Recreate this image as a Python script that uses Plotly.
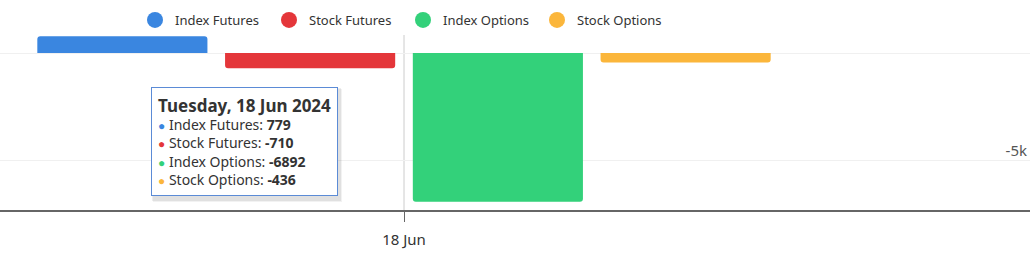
import plotly.graph_objects as go

categories = ["18 Jun"]
series_names = ["Index Futures", "Stock Futures", "Index Options", "Stock Options"]
index_futures = [779]
stock_futures = [-710]
index_options = [-6892]
stock_options = [-436]
colors = ["#3a86e0", "#e4363a", "#33d17a", "#fbb63b"]
tooltip_title = "Tuesday, 18 Jun 2024"
y_tickvals = [-5000, 0]
y_ticktext = ["-5k", ""]

values = [index_futures, stock_futures, index_options, stock_options]
FONT = "Noto Sans"

fig = go.Figure()
for name, vals, col in zip(series_names, values, colors):
    fig.add_trace(go.Bar(x=categories, y=vals, name=name, marker=dict(color=col, cornerradius=3, line=dict(width=0)),
                         showlegend=False, legendgroup=name))
for name, col in zip(series_names, colors):
    fig.add_trace(go.Scatter(x=[None], y=[None], mode="markers", name=name, legendgroup=name,
                             marker=dict(color=col, size=16, symbol="circle")))

PW, PH = 1030, 180
bx0, bx1, by0, by1 = 151, 338, 87, 198
# soft shadow behind tooltip
for off, a in [(3, 0.05), (2, 0.07)]:
    fig.add_shape(type="rect", xref="paper", yref="paper", x0=(bx0 + off - 1)/PW, x1=(bx1 + off + 1)/PW,
                  y0=(210 - by1 - off - 1)/PH, y1=(210 - by0 - off + 1)/PH,
                  fillcolor=f"rgba(0,0,0,{a})", line=dict(width=0), layer="above")

lines = [f"<span style='font-size:17px'><b>{tooltip_title}</b></span>"]
for name, vals, col in zip(series_names, values, colors):
    lines.append(f"<span style='color:{col}; font-size:12px'>●</span> {name}: <b>{vals[0]}</b>")
fig.add_annotation(text="<br>".join(lines), xref="paper", yref="paper", x=bx0/PW, y=(210-by0)/PH,
                   xanchor="left", yanchor="top", align="left", showarrow=False,
                   bgcolor="white", bordercolor="#5b8bd6", borderwidth=1, borderpad=6,
                   font=dict(family=FONT, size=14, color="#333"))

fig.add_shape(type="line", xref="x", yref="paper", x0=0, x1=0, y0=0, y1=1,
              line=dict(color="#cccccc", width=1), layer="below")

U = 751 / 0.9
fig.update_layout(
    width=1034, height=269,
    margin=dict(l=0, r=4, t=30, b=59),
    paper_bgcolor="white", plot_bgcolor="white",
    barmode="group", bargap=0.1, bargroupgap=0.094,
    font=dict(family=FONT, size=13, color="#333"),
    legend=dict(orientation="h", x=403/1030, xanchor="center", y=1 + 10/180, yanchor="middle",
                font=dict(size=13, color="#333"), entrywidth=89, itemsizing="trace"),
    xaxis=dict(type="category", range=[-404/U, (1030-404)/U], showline=True, linecolor="#666", linewidth=1.5,
               ticks="outside", ticklen=10, tickcolor="#666", showgrid=False, ticklabelstandoff=5,
               tickfont=dict(size=15, color="#333")),
    yaxis=dict(side="right", range=[-7269, 1065], tickvals=y_tickvals, ticktext=y_ticktext,
               ticklabelposition="inside top", showgrid=True, gridcolor="#f0f0f0", zeroline=False,
               tickfont=dict(size=15, color="#555")),
)
fig.write_html("out.html")
